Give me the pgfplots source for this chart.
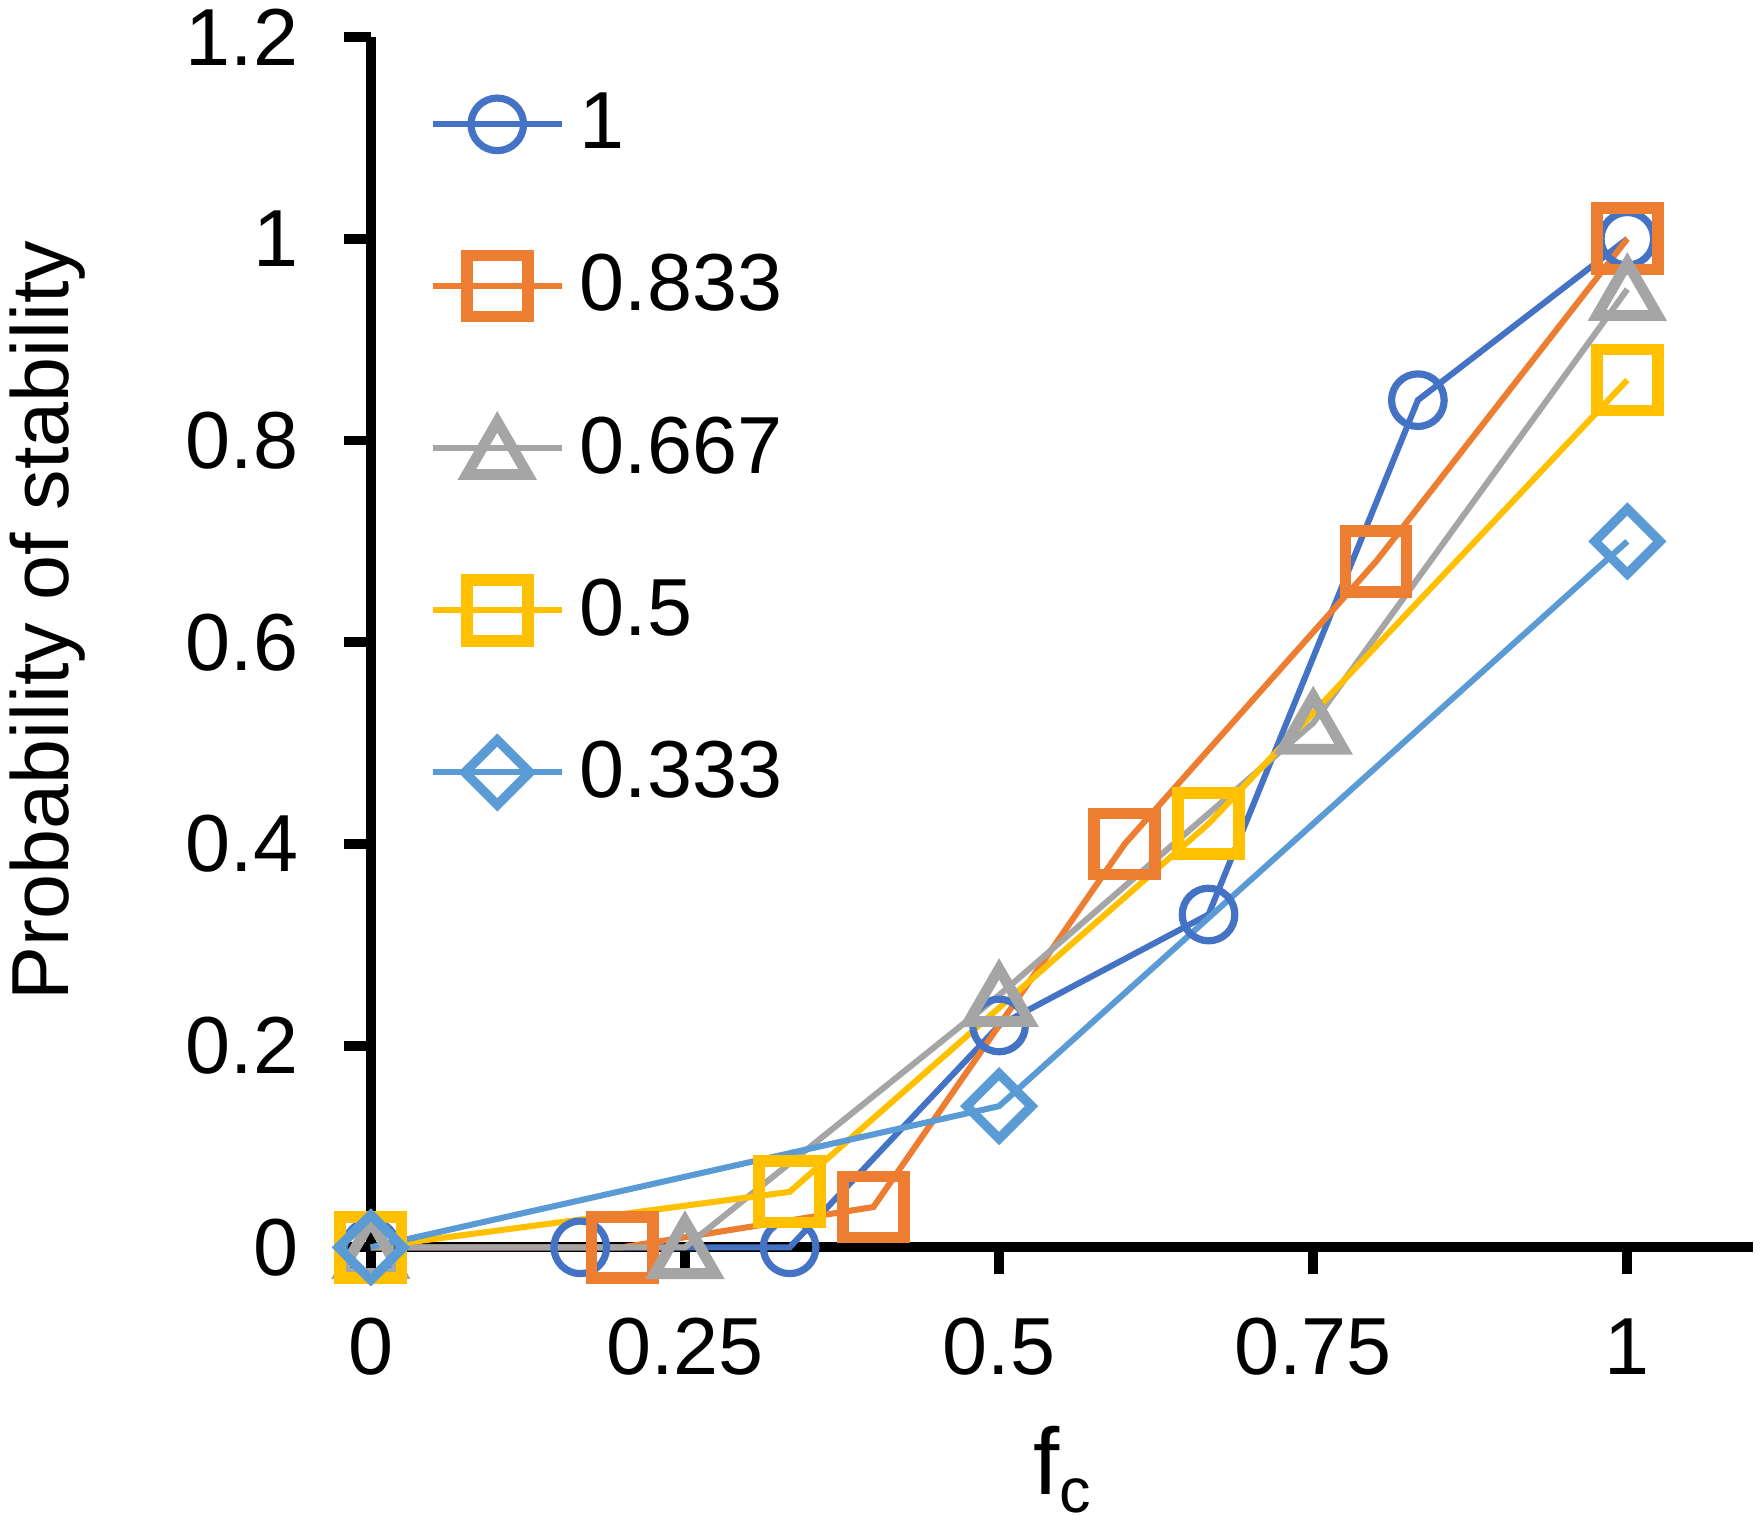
\documentclass[border=0pt]{standalone}
\usepackage{fontspec}
\setmainfont{Liberation Sans}
\usepackage{pgfplots}
\pgfplotsset{compat=1.18}
\definecolor{cA}{HTML}{4472C4}
\definecolor{cB}{HTML}{ED7D31}
\definecolor{cC}{HTML}{A5A5A5}
\definecolor{cD}{HTML}{FFC000}
\definecolor{cE}{HTML}{5B9BD5}
\newcommand{\bigfont}{\fontsize{18}{21.6}\selectfont}
\begin{document}
\begin{tikzpicture}
\begin{axis}[
  scale only axis, width=307.5pt, height=269.25pt,
  xmin=0, xmax=1.1, ymin=0, ymax=1.2,
  axis lines=left,
  axis line style={-, line width=2.2pt, black},
  xtick={0,0.25,0.5,0.75,1},
  ytick={0,0.2,0.4,0.6,0.8,1,1.2},
  tick align=outside, major tick length=6pt,
  tick style={line width=2.2pt, black},
  /pgf/number format/assume math mode=true,
  tick label style={font=\bigfont},
  xticklabel style={anchor=north, inner sep=0pt, yshift=-9.6pt},
  yticklabel style={anchor=east, inner sep=0pt, xshift=-10pt},
  label style={font=\bigfont},
  xlabel={\fontsize{21}{24}\selectfont f\raisebox{-4.1pt}{\fontsize{14}{16}\selectfont c}},
  ylabel={Probability of stability},
  xlabel style={at={(axis description cs:0.5,-0.147)}, anchor=north, inner sep=0pt},
  ylabel style={at={(axis description cs:-0.262,0.518)}, anchor=north, inner sep=0pt},
  clip=false,
  legend cell align=left,
  legend style={draw=none, fill=none, font=\bigfont,
    at={(axis description cs:0.044,0.96)}, anchor=north west,
    inner sep=0pt, row sep=19pt, column sep=2.5pt, nodes={inner sep=1.5pt}},
  legend image code/.code={\pgfpathrectangle{\pgfpoint{0pt}{-6pt}}{\pgfpoint{28.8pt}{12pt}}\pgfusepath{use as bounding box}%
    \draw[mark repeat=2,mark phase=2,#1] plot coordinates {(0pt,0pt) (14.4pt,0pt) (28.8pt,0pt)};},
]
\addplot[color=cA, line width=1.35pt, mark=o, mark size=5.85pt, mark options={solid, line width=1.6pt}]
  coordinates {(0,0) (0.1667,0) (0.3333,0) (0.5,0.22) (0.6667,0.33) (0.8333,0.84) (1,1.0)};
\addlegendentry{1}
\addplot[color=cB, line width=1.35pt, mark=square, mark size=6.8pt, mark options={solid, line width=2.6pt}]
  coordinates {(0,0) (0.2,0) (0.4,0.04) (0.6,0.40) (0.8,0.68) (1,1.0)};
\addlegendentry{0.833}
\addplot[color=cC, line width=1.35pt, mark=triangle, mark size=7.8pt, mark options={solid, line width=2.4pt, yshift=-1.95pt}]
  coordinates {(0,0) (0.25,0) (0.5,0.25) (0.75,0.52) (1,0.95)};
\addlegendentry{0.667}
\addplot[color=cD, line width=1.35pt, mark=square, mark size=6.8pt, mark options={solid, line width=2.6pt}]
  coordinates {(0,0) (0.3333,0.055) (0.6667,0.42) (1,0.86)};
\addlegendentry{0.5}
\addplot[color=cE, line width=1.35pt, mark=square, mark size=5.1pt, mark options={solid, rotate=45, line width=2.1pt}]
  coordinates {(0,0) (0.5,0.14) (1,0.70)};
\addlegendentry{0.333}
\end{axis}
\pgfresetboundingbox
\path ([shift={(-82.5pt,-63.5pt)}]current axis.south west) rectangle ([shift={(309.5pt,277.5pt)}]current axis.south west);
\end{tikzpicture}
\end{document}
